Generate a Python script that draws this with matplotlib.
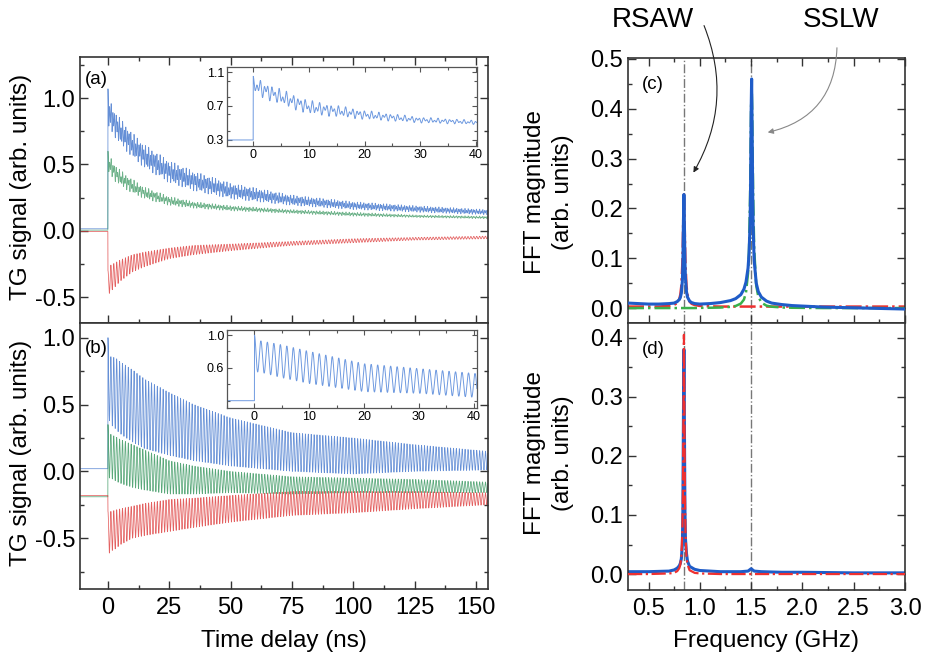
import numpy as np
import matplotlib
matplotlib.use('Agg')
import matplotlib.pyplot as plt
from matplotlib.ticker import MultipleLocator
from matplotlib.patches import FancyArrowPatch

plt.rcParams['font.family'] = ['Liberation Sans', 'DejaVu Sans']

# ---------------- data ----------------
f_rsaw = 0.845   # GHz (RSAW peak)
f_sslw = 1.505   # GHz (SSLW peak)

# envelope knots (ns)
knots_t = [0.3, 1, 3, 5, 10, 15, 25, 35, 50, 75, 100, 125, 155]

# panel (a): upper / lower envelopes, level before t=0
a_blue_hi = [1.07, 0.98, 0.90, 0.85, 0.74, 0.65, 0.53, 0.45, 0.36, 0.27, 0.22, 0.19, 0.16]
a_blue_lo = [0.75, 0.76, 0.70, 0.65, 0.55, 0.47, 0.36, 0.30, 0.24, 0.19, 0.16, 0.14, 0.12]
a_green_hi = [0.60, 0.56, 0.50, 0.46, 0.39, 0.33, 0.26, 0.22, 0.19, 0.16, 0.14, 0.12, 0.11]
a_green_lo = [0.42, 0.42, 0.37, 0.34, 0.28, 0.24, 0.19, 0.17, 0.15, 0.13, 0.11, 0.10, 0.09]
a_red_hi = [-0.30, -0.26, -0.24, -0.22, -0.18, -0.16, -0.13, -0.11, -0.10, -0.08, -0.06, -0.05, -0.04]
a_red_lo = [-0.48, -0.46, -0.42, -0.38, -0.31, -0.27, -0.21, -0.18, -0.15, -0.11, -0.09, -0.07, -0.06]
a_pre = {'blue': 0.015, 'green': 0.005, 'red': -0.005}

# panel (b)
b_blue_hi = [1.00, 0.86, 0.85, 0.82, 0.76, 0.69, 0.59, 0.50, 0.40, 0.29, 0.25, 0.20, 0.15]
b_blue_lo = [0.40, 0.35, 0.32, 0.28, 0.22, 0.17, 0.12, 0.08, 0.04, 0.00, -0.02, 0.00, 0.01]
b_green_hi = [0.35, 0.28, 0.26, 0.24, 0.20, 0.16, 0.08, 0.04, 0.00, -0.04, -0.05, -0.06, -0.08]
b_green_lo = [-0.05, -0.05, -0.07, -0.09, -0.12, -0.14, -0.17, -0.17, -0.16, -0.17, -0.16, -0.16, -0.16]
b_red_hi = [-0.30, -0.30, -0.29, -0.28, -0.26, -0.24, -0.21, -0.20, -0.18, -0.15, -0.15, -0.15, -0.16]
b_red_lo = [-0.62, -0.60, -0.58, -0.55, -0.50, -0.48, -0.45, -0.42, -0.38, -0.33, -0.31, -0.28, -0.25]
b_pre = {'blue': 0.02, 'green': -0.19, 'red': -0.18}

# insets
ins_t = [0.4, 1, 5, 10, 20, 30, 40.5]
ins_a_hi = [1.05, 1.02, 0.90, 0.77, 0.65, 0.57, 0.53]
ins_a_lo = [0.85, 0.81, 0.71, 0.60, 0.54, 0.50, 0.48]
ins_a_pre = 0.30
ins_b_hi = [1.00, 0.93, 0.88, 0.80, 0.65, 0.59, 0.53]
ins_b_lo = [0.55, 0.55, 0.48, 0.41, 0.31, 0.29, 0.24]
ins_b_pre = 0.20

# panel (c): FFT magnitude and fits
freq_c = [0.30, 0.40, 0.50, 0.60, 0.70, 0.75, 0.78, 0.80, 0.81, 0.82, 0.83, 0.835, 0.84, 0.845,
          0.85, 0.855, 0.86, 0.87, 0.88, 0.90, 0.92, 0.95, 1.00, 1.10, 1.20, 1.30, 1.35, 1.40,
          1.43, 1.45, 1.47, 1.48, 1.49, 1.495, 1.50, 1.505, 1.51, 1.515, 1.52, 1.53, 1.55, 1.57,
          1.60, 1.65, 1.70, 1.80, 1.90, 2.00, 2.20, 2.40, 2.60, 2.80, 3.00]
fft_c = [0.010, 0.009, 0.008, 0.008, 0.009, 0.010, 0.013, 0.017, 0.021, 0.030, 0.055, 0.090, 0.170, 0.228,
         0.165, 0.095, 0.060, 0.033, 0.022, 0.014, 0.011, 0.009, 0.008, 0.009, 0.011, 0.015, 0.019, 0.027,
         0.038, 0.052, 0.080, 0.110, 0.170, 0.250, 0.390, 0.460, 0.360, 0.240, 0.160, 0.095, 0.050, 0.033,
         0.022, 0.014, 0.010, 0.007, 0.005, 0.004, 0.002, 0.001, 0.000, -0.001, -0.002]
fit_rsaw_c = [0.003, 0.003, 0.003, 0.003, 0.0045, 0.0065, 0.010, 0.018, 0.027, 0.045, 0.091, 0.136, 0.195, 0.228,
              0.195, 0.136, 0.091, 0.045, 0.027, 0.013, 0.0086, 0.006, 0.0043, 0.0035, 0.003, 0.003, 0.003, 0.003,
              0.003, 0.003, 0.003, 0.003, 0.003, 0.003, 0.003, 0.003, 0.003, 0.003, 0.003, 0.003, 0.003, 0.003,
              0.003, 0.003, 0.003, 0.003, 0.003, 0.003, 0.003, 0.003, 0.003, 0.003, 0.003]
fit_sslw_c = [0.0, 0.0, 0.0, 0.0, 0.0, 0.0, 0.0, 0.0, 0.0, 0.0, 0.0, 0.0, 0.0, 0.0,
              0.0, 0.0, 0.0, 0.0, 0.0, 0.0, 0.0, 0.0, 0.0004, 0.0006, 0.001, 0.0024, 0.0042, 0.009,
              0.017, 0.031, 0.070, 0.119, 0.225, 0.312, 0.405, 0.450, 0.405, 0.312, 0.225, 0.119, 0.045, 0.023,
              0.011, 0.0048, 0.0027, 0.0012, 0.0006, 0.0004, 0.0, 0.0, 0.0, 0.0, 0.0]

# panel (d)
freq_d = [0.30, 0.50, 0.70, 0.75, 0.78, 0.80, 0.81, 0.82, 0.83, 0.835, 0.84, 0.845, 0.85, 0.855, 0.86,
          0.87, 0.88, 0.90, 0.95, 1.00, 1.20, 1.40, 1.47, 1.50, 1.53, 1.60, 1.80, 2.00, 2.50, 3.00]
fft_d = [0.004, 0.004, 0.005, 0.007, 0.010, 0.014, 0.018, 0.026, 0.050, 0.110, 0.260, 0.380, 0.250, 0.110, 0.060,
         0.035, 0.022, 0.013, 0.008, 0.006, 0.004, 0.004, 0.005, 0.009, 0.005, 0.004, 0.003, 0.003, 0.002, 0.002]
fit_rsaw_d = [0.0, 0.0, 0.001, 0.002, 0.005, 0.010, 0.016, 0.029, 0.072, 0.133, 0.268, 0.405, 0.268, 0.133, 0.072,
              0.029, 0.016, 0.0065, 0.002, 0.001, 0.0, 0.0, 0.0, 0.0, 0.0, 0.0, 0.0, 0.0, 0.0, 0.0]

# ---------------- helpers ----------------
def trace(t, pre, kt, hi, lo, w_sslw, w_rsaw):
    hi_i = np.interp(t, kt, hi)
    lo_i = np.interp(t, kt, lo)
    mid = 0.5 * (hi_i + lo_i)
    half = 0.5 * (hi_i - lo_i)
    osc = (w_sslw * np.cos(2 * np.pi * f_sslw * t) + w_rsaw * np.cos(2 * np.pi * f_rsaw * t)) / (w_sslw + w_rsaw)
    y = mid + half * osc
    return np.where(t < 0, pre, y)


C_BLUE = '#4a7ccf'
C_GREEN = '#3d9963'
C_RED = '#df4545'
C_FBLUE = '#1f5cc8'
SPINE = '#333333'
FS = 17
LFS = 17.5

W, H = 927, 660
fig = plt.figure(figsize=(W / 100, H / 100), dpi=100)


def fx(px):
    return px / W


def fy(py):
    return 1 - py / H


def style(ax, top=True, size=FS):
    ax.tick_params(which='both', direction='in', top=top, right=True, labelsize=size,
                   color=SPINE, width=1.0)
    ax.tick_params(which='major', length=6)
    ax.tick_params(which='minor', length=3)
    for s in ax.spines.values():
        s.set_color(SPINE)
        s.set_linewidth(1.2)


L0, L1 = 80, 488
R0, R1 = 628, 905
axa = fig.add_axes([fx(L0), fy(323), fx(L1 - L0), fy(57) - fy(323)])
axb = fig.add_axes([fx(L0), fy(589), fx(L1 - L0), fy(323) - fy(589)])
axc = fig.add_axes([fx(R0), fy(323), fx(R1 - R0), fy(58) - fy(323)])
axd = fig.add_axes([fx(R0), fy(590), fx(R1 - R0), fy(323) - fy(590)])

t = np.arange(-11.4, 155.0, 0.05)
lw = 0.55
al = 0.85

# (a)
axa.plot(t, trace(t, a_pre['blue'], knots_t, a_blue_hi, a_blue_lo, 2, 1), color=C_BLUE, lw=lw, alpha=al)
axa.plot(t, trace(t, a_pre['green'], knots_t, a_green_hi, a_green_lo, 1.5, 1), color=C_GREEN, lw=lw, alpha=0.75)
axa.plot(t, trace(t, a_pre['red'], knots_t, a_red_hi, a_red_lo, 0, 1), color=C_RED, lw=lw, alpha=al)
axa.set_xlim(-11.4, 154.9)
axa.set_ylim(-0.695, 1.31)
# (b)
axb.plot(t, trace(t, b_pre['blue'], knots_t, b_blue_hi, b_blue_lo, 0, 1), color=C_BLUE, lw=lw, alpha=al)
axb.plot(t, trace(t, b_pre['green'], knots_t, b_green_hi, b_green_lo, 0, 1), color=C_GREEN, lw=lw, alpha=al)
axb.plot(t, trace(t, b_pre['red'], knots_t, b_red_hi, b_red_lo, 0, 1), color=C_RED, lw=lw, alpha=al)
axb.set_xlim(-11.4, 154.9)
axb.set_ylim(-0.88, 1.11)

for ax in (axa, axb):
    ax.xaxis.set_major_locator(MultipleLocator(25))
    ax.xaxis.set_minor_locator(MultipleLocator(12.5))
    ax.yaxis.set_minor_locator(MultipleLocator(0.25))
    ax.set_yticks([-0.5, 0.0, 0.5, 1.0])
    ax.set_yticklabels(['-0.5', '0.0', '0.5', '1.0'])
style(axa, top=True)
style(axb, top=False)
axa.tick_params(labelbottom=False)
axb.tick_params(axis='x', pad=6)

axa.text(0.012, 0.915, '(a)', transform=axa.transAxes, fontsize=13.5, va='center')
axb.text(0.012, 0.905, '(b)', transform=axb.transAxes, fontsize=13.5, va='center')

# insets
ti = np.arange(-5, 40.6, 0.02)
ina = fig.add_axes([fx(227), fy(146), fx(477 - 227), fy(67) - fy(146)])
ina.plot(ti, trace(ti, ins_a_pre, ins_t, ins_a_hi, ins_a_lo, 1.2, 1), color='#6f9ae0', lw=0.7)
ina.set_xlim(-4.7, 40.2)
ina.set_ylim(0.229, 1.159)
ina.set_yticks([0.3, 0.7, 1.1])
ina.yaxis.set_minor_locator(MultipleLocator(0.2))
inb = fig.add_axes([fx(227), fy(408), fx(477 - 227), fy(330) - fy(408)])
inb.plot(ti, trace(ti, ins_b_pre, ins_t, ins_b_hi, ins_b_lo, 0, 1), color='#6f9ae0', lw=0.7)
inb.set_xlim(-5.0, 40.6)
inb.set_ylim(0.111, 1.061)
inb.set_yticks([0.6, 1.0])
inb.set_yticks([0.2, 0.4, 0.8], minor=True)
for ax in (ina, inb):
    ax.set_xticks([0, 10, 20, 30, 40])
    ax.xaxis.set_minor_locator(MultipleLocator(5))
    ax.tick_params(which='both', direction='in', top=True, right=True, labelsize=9,
                   color='#555555', width=0.8, pad=2)
    ax.tick_params(which='major', length=3.5)
    ax.tick_params(which='minor', length=2)
    for s in ax.spines.values():
        s.set_color('#555555')
        s.set_linewidth(0.9)
    ax.set_facecolor('white')

# (c)
axc.plot(freq_c, fft_c, color=C_FBLUE, lw=2.2, zorder=3)
axc.plot(freq_c, fit_rsaw_c, color='#ee3030', lw=1.8, ls='-.', zorder=2)
axc.plot(freq_c, fit_sslw_c, color='#3ab04a', lw=1.8, ls='-.', zorder=2)
axc.set_xlim(0.3, 3.0)
axc.set_ylim(-0.03, 0.502)
# (d)
axd.plot(freq_d, fft_d, color=C_FBLUE, lw=2.2, zorder=2)
axd.plot(freq_d, fit_rsaw_d, color='#ee3030', lw=1.6, ls='-.', zorder=3)
axd.set_xlim(0.3, 3.0)
axd.set_ylim(-0.027, 0.425)
for ax in (axc, axd):
    ax.axvline(0.841, color='#777777', lw=1.0, ls='-.', zorder=1)
    ax.axvline(1.503, color='#777777', lw=1.0, ls='-.', zorder=1)
    ax.xaxis.set_major_locator(MultipleLocator(0.5))
    ax.xaxis.set_minor_locator(MultipleLocator(0.25))
    ax.yaxis.set_major_locator(MultipleLocator(0.1))
    ax.yaxis.set_minor_locator(MultipleLocator(0.05))
style(axc, top=True)
style(axd, top=False)
axc.tick_params(labelbottom=False)
axd.tick_params(axis='x', pad=6)
axc.text(0.05, 0.9, '(c)', transform=axc.transAxes, fontsize=13.5, va='center')
axd.text(0.05, 0.9, '(d)', transform=axd.transAxes, fontsize=13.5, va='center')

# axis labels
fig.text(fx(21), fy(187), 'TG signal (arb. units)', rotation=90, ha='center', va='center', fontsize=LFS)
fig.text(fx(21), fy(453), 'TG signal (arb. units)', rotation=90, ha='center', va='center', fontsize=LFS)
fig.text(fx(549), fy(192), 'FFT magnitude\n(arb. units)', rotation=90, ha='center', va='center',
         fontsize=LFS, linespacing=1.3)
fig.text(fx(549), fy(453), 'FFT magnitude\n(arb. units)', rotation=90, ha='center', va='center',
         fontsize=LFS, linespacing=1.3)
fig.text(fx(284), fy(641), 'Time delay (ns)', ha='center', va='center', fontsize=LFS)
fig.text(fx(766), fy(641), 'Frequency (GHz)', ha='center', va='center', fontsize=LFS)

# annotations
fig.text(fx(653), fy(20), 'RSAW', ha='center', va='center', fontsize=20)
fig.text(fx(841), fy(20), 'SSLW', ha='center', va='center', fontsize=20)
fig.add_artist(FancyArrowPatch(
    (703, H - 23), (692, H - 175), transform=None, arrowstyle='-|>', mutation_scale=8,
    connectionstyle='arc3,rad=-0.25', color='#222222', lw=0.8))
fig.add_artist(FancyArrowPatch(
    (837, H - 45), (765, H - 133), transform=None, arrowstyle='-|>', mutation_scale=8,
    connectionstyle='arc3,rad=-0.4', color='#888888', lw=0.8))

fig.savefig('out.png', dpi=100)
